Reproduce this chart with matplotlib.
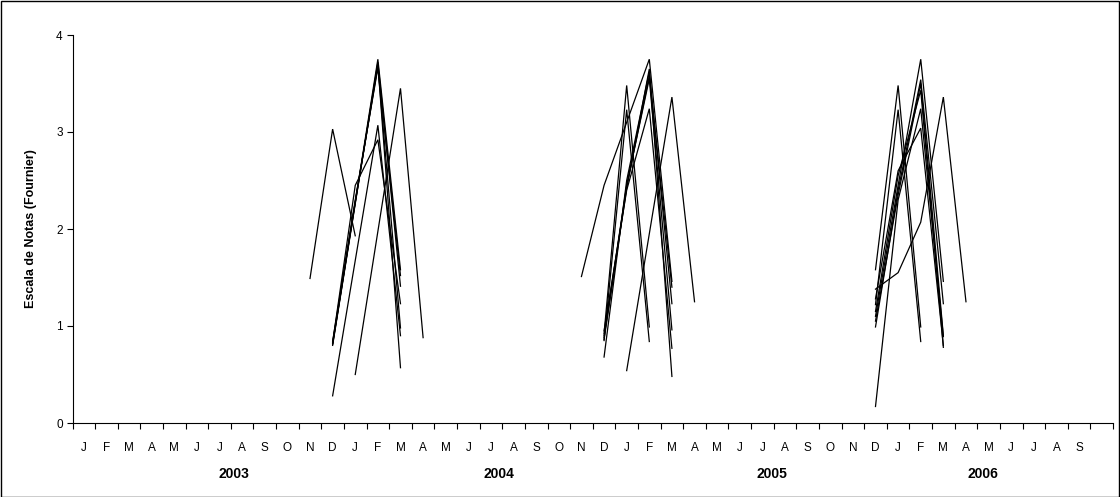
import numpy as np
import matplotlib
matplotlib.use("Agg")
import matplotlib.pyplot as plt
from matplotlib.patches import Rectangle

plt.rcParams["font.family"] = ["Liberation Sans", "DejaVu Sans"]

# Category axis: J 2003 .. S 2006 plus one empty slot at the end
month_labels = list("JFMAMJJASOND") * 3 + list("JFMAMJJAS") + [""]
year_labels = ["2003", "2004", "2005", "2006"]
year_pos = [6.64, 18.35, 30.41, 39.73]

nan = np.nan

# season 2003/04: months N D J F M A (category 10..15)
season1_start = 10
season1 = [
    [1.49, 3.03, 1.93, nan, nan, nan],
    [nan, 0.82, 2.28, 3.75, 1.58, nan],
    [nan, 0.80, 2.26, 3.72, 1.41, nan],
    [nan, 0.83, 2.45, 2.92, 1.23, nan],
    [nan, 0.28, nan, 3.07, 0.90, nan],
    [nan, nan, 0.50, nan, 3.45, 0.88],
    [nan, 0.81, 2.27, 3.70, 0.57, nan],
    [nan, 0.84, 2.30, 3.66, 1.52, nan],
    [nan, 0.82, 2.28, 3.68, 0.98, nan],
]

# season 2004/05: months N D J F M A (category 22..27)
season2_start = 22
season2 = [
    [1.51, 2.45, nan, 3.75, 1.46, nan],
    [nan, 0.92, 3.48, 0.99, nan, nan],
    [nan, 0.85, 3.23, 0.84, nan, nan],
    [nan, 0.68, 2.50, 3.62, 1.23, nan],
    [nan, 0.90, 2.45, 3.55, 0.96, nan],
    [nan, 0.95, 2.40, 3.24, 0.77, nan],
    [nan, nan, 0.54, nan, 3.36, 1.25],
    [nan, 0.86, 2.42, 3.65, 0.48, nan],
    [nan, 0.88, 2.44, 3.58, 1.40, nan],
]

# season 2005/06: months D J F M A (category 35..39)
season3_start = 35
season3 = [
    [1.38, 1.55, 2.07, 3.36, 1.25],
    [1.58, 3.48, 0.99, nan, nan],
    [1.22, 3.23, 0.84, nan, nan],
    [0.17, 2.30, 3.24, 0.89, nan],
    [1.10, 2.45, 3.75, 1.46, nan],
    [0.99, 2.40, 3.54, 1.23, nan],
    [1.15, 2.55, 3.43, 0.78, nan],
    [1.28, 2.60, 3.04, 0.80, nan],
    [1.05, 2.35, 3.50, 0.90, nan],
]

W, H = 1120, 497
fig = plt.figure(figsize=(W / 100, H / 100), dpi=100)
ax = fig.add_axes([72.5 / W, 74 / H, (1113 - 72.5) / W, 388 / H])

for start, season in [(season1_start, season1), (season2_start, season2), (season3_start, season3)]:
    for row in season:
        y = np.array(row, dtype=float)
        x = np.arange(start, start + len(y))
        ok = ~np.isnan(y)
        ax.plot(x[ok], y[ok], color="black", lw=0.9, solid_joinstyle="miter")

n = len(month_labels)
ax.set_xlim(-0.5, n - 0.5)
ax.set_ylim(0, 4)
ax.set_yticks([0, 1, 2, 3, 4])
ax.tick_params(axis="y", direction="out", length=4, width=0.8, labelsize=8.5, pad=3)

ax.set_xticks(np.arange(n + 1) - 0.5)
ax.set_xticklabels([])
ax.tick_params(axis="x", which="major", direction="out", length=4, width=0.8)
ax.set_xticks(np.arange(n), minor=True)
ax.set_xticklabels(month_labels, minor=True, fontsize=8.5)
ax.tick_params(axis="x", which="minor", length=0, pad=14)

for lab, xp in zip(year_labels, year_pos):
    ax.text(xp, -0.53, lab, ha="center", va="center", fontsize=10, fontweight="bold",
            transform=ax.transData, clip_on=False)

for s in ["top", "right"]:
    ax.spines[s].set_visible(False)
for s in ["left", "bottom"]:
    ax.spines[s].set_linewidth(0.8)

ax.set_ylabel("Escala de Notas (Fournier)", fontsize=9, fontweight="bold", labelpad=14)

fig.patches.append(Rectangle((0.5 / W, 0.5 / H), (W - 1.5) / W, (H - 1.5) / H,
                             transform=fig.transFigure, fill=False,
                             edgecolor="black", lw=1.0))

fig.savefig("out.png", dpi=100)
